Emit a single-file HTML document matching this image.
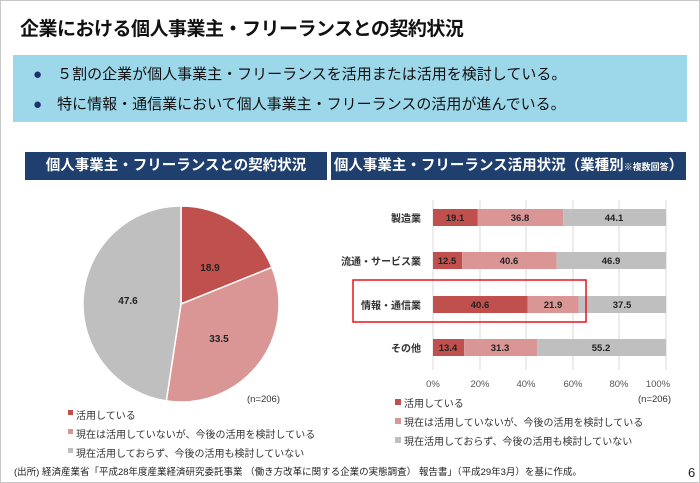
<!DOCTYPE html>
<html><head><meta charset="utf-8"><style>
body{margin:0;width:700px;height:483px;background:#fff;font-family:"Liberation Sans","Noto Sans CJK JP",sans-serif;overflow:hidden;position:relative}
.b{position:absolute;left:0;top:0;width:698px;height:481px;border:1px solid #c8c8c8}
.t{position:absolute;left:20px;top:14px;font-size:19px;font-weight:bold;color:#111;letter-spacing:-0.5px}
.box{position:absolute;left:13px;top:55px;width:674px;height:67px;background:#9dd7ea}
.box div{position:absolute;left:20px;font-size:15px;color:#111}
.h{position:absolute;top:152px;height:28px;background:#1f3f6e;color:#fff;font-size:14.5px;font-weight:bold;text-align:center;line-height:28px}
.s{position:absolute;font-size:10px;color:#333;white-space:nowrap}
</style></head><body>
<div class="b"></div>
<div class="t">企業における個人事業主・フリーランスとの契約状況</div>
<div class="box"><div style="top:8px"><span style="color:#1f2f6e">●</span>　５割の企業が個人事業主・フリーランスを活用または活用を検討している。</div>
<div style="top:38px"><span style="color:#1f2f6e">●</span>　特に情報・通信業において個人事業主・フリーランスの活用が進んでいる。</div></div>
<div class="h" style="left:25px;width:302px">個人事業主・フリーランスとの契約状況</div>
<div class="h" style="left:331px;width:355px">個人事業主・フリーランス活用状況（業種別<span style="font-size:9px">※複数回答</span>）</div>
<svg width="700" height="483" style="position:absolute;left:0;top:0" font-family="Liberation Sans,Noto Sans CJK JP,sans-serif">
<g stroke="#fff" stroke-width="1.5">
<path d="M181,304 L181,206 A98,98 0 0 1 271.9,267.3 Z" fill="#c0504d"/>
<path d="M181,304 L271.9,267.3 A98,98 0 0 1 166.3,400.9 Z" fill="#d99694"/>
<path d="M181,304 L166.3,400.9 A98,98 0 0 1 181,206 Z" fill="#bfbfbf"/>
</g>
<g font-size="10" font-weight="bold" fill="#222" text-anchor="middle">
<text x="210" y="271">18.9</text><text x="219" y="342">33.5</text><text x="128" y="304">47.6</text>
</g>
<g stroke="#d9d9d9"><line x1="433" y1="200" x2="433" y2="370"/><line x1="480" y1="200" x2="480" y2="370"/><line x1="526" y1="200" x2="526" y2="370"/><line x1="573" y1="200" x2="573" y2="370"/><line x1="619" y1="200" x2="619" y2="370"/><line x1="666" y1="200" x2="666" y2="370"/></g>
<g>
<rect x="433" y="209" width="44.5" height="17" fill="#c0504d"/><rect x="477.5" y="209" width="85.7" height="17" fill="#d99694"/><rect x="563.2" y="209" width="102.8" height="17" fill="#bfbfbf"/>
<rect x="433" y="252" width="29.1" height="17" fill="#c0504d"/><rect x="462.1" y="252" width="94.6" height="17" fill="#d99694"/><rect x="556.7" y="252" width="109.3" height="17" fill="#bfbfbf"/>
<rect x="433" y="296" width="94.6" height="17" fill="#c0504d"/><rect x="527.6" y="296" width="51" height="17" fill="#d99694"/><rect x="578.6" y="296" width="87.4" height="17" fill="#bfbfbf"/>
<rect x="433" y="339" width="31.2" height="17" fill="#c0504d"/><rect x="464.2" y="339" width="72.9" height="17" fill="#d99694"/><rect x="537.1" y="339" width="128.9" height="17" fill="#bfbfbf"/>
</g>
<g font-size="9.5" font-weight="bold" fill="#222" text-anchor="middle">
<text x="455" y="221">19.1</text><text x="520" y="221">36.8</text><text x="614" y="221">44.1</text>
<text x="447" y="264">12.5</text><text x="509" y="264">40.6</text><text x="611" y="264">46.9</text>
<text x="480" y="308">40.6</text><text x="553" y="308">21.9</text><text x="622" y="308">37.5</text>
<text x="448" y="351">13.4</text><text x="500" y="351">31.3</text><text x="601" y="351">55.2</text>
</g>
<g font-size="10" font-weight="bold" fill="#333" text-anchor="end">
<text x="421" y="222">製造業</text><text x="421" y="265">流通・サービス業</text><text x="421" y="309">情報・通信業</text><text x="421" y="352">その他</text>
</g>
<rect x="353" y="280" width="233" height="42" fill="none" stroke="#e8141c" stroke-width="1.5"/>
<g font-size="9.5" fill="#555" text-anchor="middle">
<text x="433" y="387">0%</text><text x="480" y="387">20%</text><text x="526" y="387">40%</text><text x="573" y="387">60%</text><text x="619" y="387">80%</text><text x="658" y="387">100%</text>
</g>
<g font-size="9.5" fill="#333"><text x="247" y="402">(n=206)</text><text x="638" y="402">(n=206)</text></g>
<g font-size="10" fill="#333">
<rect x="68" y="410" width="5" height="5" fill="#c0504d"/><text x="76" y="419">活用している</text>
<rect x="68" y="429" width="5" height="5" fill="#d99694"/><text x="76" y="438">現在は活用していないが、今後の活用を検討している</text>
<rect x="68" y="448" width="5" height="5" fill="#bfbfbf"/><text x="76" y="457">現在活用しておらず、今後の活用も検討していない</text>
<rect x="395" y="399" width="6" height="6" fill="#c0504d"/><text x="404" y="407">活用している</text>
<rect x="395" y="418" width="6" height="6" fill="#d99694"/><text x="404" y="426">現在は活用していないが、今後の活用を検討している</text>
<rect x="395" y="437" width="6" height="6" fill="#bfbfbf"/><text x="404" y="445">現在活用しておらず、今後の活用も検討していない</text>
</g>
<text x="14" y="475" font-size="9.5" fill="#222">(出所) 経済産業省「平成28年度産業経済研究委託事業 （働き方改革に関する企業の実態調査） 報告書」（平成29年3月）を基に作成。</text>
<text x="688" y="477" font-size="13" fill="#222">6</text>
</svg>
</body></html>
